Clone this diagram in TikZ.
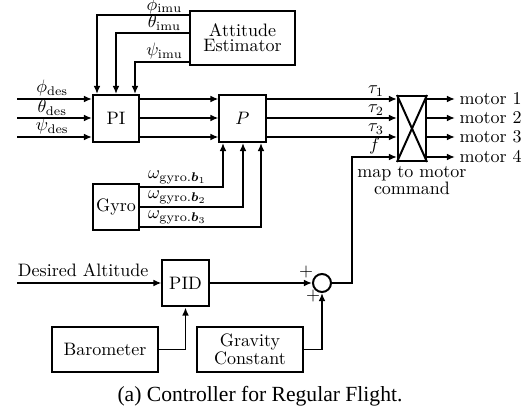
\documentclass[tikz,border=0pt]{standalone}
\usepackage{amsmath}
\usepackage{amssymb}
\usepackage{fontspec}
\newfontfamily\capfont{Liberation Serif}
\usetikzlibrary{positioning,arrows.meta}

\begin{document}
\begin{tikzpicture}[
    x=0.5556pt, y=-0.5556pt,
    box/.style={draw, line width=1.1pt, minimum width=25.6pt, minimum height=26.1pt, align=center, inner sep=1pt},
    widebox/.style={box, minimum width=58.6pt, minimum height=25pt},
    arr/.style={-{Latex[length=4.5pt,width=3.8pt]}, line width=1.1pt},
    lbl/.style={inner sep=1pt}
]
\useasboundingbox (0,0) rectangle (532,411);

% blocks
\node[box, minimum width=58.3pt, minimum height=30pt, font=\fontsize{10}{8.5}\selectfont] (att) at (242.5,38) {Attitude\\Estimator};
\node[box] (pi) at (116,118.5) {PI};
\node[box] (p) at (242.5,118.5) {$P$};
\node[box, minimum width=15.6pt, minimum height=36.1pt] (map) at (412,128.5) {};
\node[box] (gyro) at (116,207) {Gyro};
\node[box] (pid) at (185.5,283) {PID};
\node[widebox] (baro) at (105,349.5) {Barometer};
\node[widebox, font=\fontsize{10}{10}\selectfont] (grav) at (250,349.5) {Gravity\\Constant};
\node[draw, circle, line width=1.1pt, minimum size=10pt, inner sep=0pt] (sum) at (322,283) {};

% attitude feedback
\draw[arr] (att.west |- 0,15) -| node[inner sep=0.2pt, above, pos=0.134] {$\phi_{\mathrm{imu}}$} (pi.north -| 97,0);
\draw[arr] (att.west |- 0,33) -| node[lbl, above, pos=0.169] {$\theta_{\mathrm{imu}}$} (pi.north -| 116,0);
\draw[arr] (att.west |- 0,62) -| node[lbl, above, pos=0.227] {$\psi_{\mathrm{imu}}$} (pi.north -| 135,0);

% desired angles
\foreach \yy/\lab in {99/\phi,118/\theta,137/\psi}{
  \coordinate (in\yy) at (17,\yy);
  \draw[arr] (in\yy) -- node[lbl, above, pos=0.47] {$\lab_{\mathrm{des}}$} (pi.west |- in\yy);
  \draw[arr] (pi.east |- in\yy) -- (p.west |- in\yy);
}

% torques and thrust
\foreach \i/\yy in {1/99,2/118,3/137}{
  \draw[arr] (p.east |- 0,\yy) -- node[lbl, above, pos=0.84] {$\tau_\i$} (map.west |- 0,\yy);
}
\draw[line width=1.1pt] (map.north west) -- (map.south east) (map.north east) -- (map.south west);
\node[below=1pt of map, align=center, inner sep=1pt, font=\fontsize{10}{7.5}\selectfont] (maplbl) {map to motor\\command};
\foreach \i/\yy in {1/99,2/118,3/137,4/157}{
  \coordinate (m\i) at (455,\yy);
  \draw[arr] (map.east |- m\i) -- (m\i) node[right, inner sep=2pt] {motor \i};
}

% gyro rates
\foreach \j/\yy/\xx in {1/187/223,2/207/243,3/227/261}{
  \draw[arr] (gyro.east |- 0,\yy) -| node[lbl, above right, pos=0, xshift=3pt] {$\omega_{\mathrm{gyro}.\boldsymbol{b}_\j}$} (p.south -| \xx,0);
}

% altitude loop
\coordinate (altin) at (17,283);
\draw[arr] (altin) -- node[pos=0, anchor=south west, inner xsep=0pt, inner ysep=3pt] {Desired Altitude} (pid.west);
\draw[arr] (pid.east) -- (sum.west);
\draw[arr] (baro.east) -| (pid.south);
\draw[arr] (grav.east) -| (sum.south);
\node[lbl] (plus1) at (306,272) {$+$};
\node[lbl] (plus2) at (313,296) {$+$};
\coordinate (fturn) at (352,157);
\draw[arr] (sum.east) -| (fturn) -- node[lbl, above] {$f$} (map.west |- fturn);

\node[font=\fontsize{12}{14}\capfont] (cap) at (260,396) {(a) Controller for Regular Flight.};
\end{tikzpicture}
\end{document}
